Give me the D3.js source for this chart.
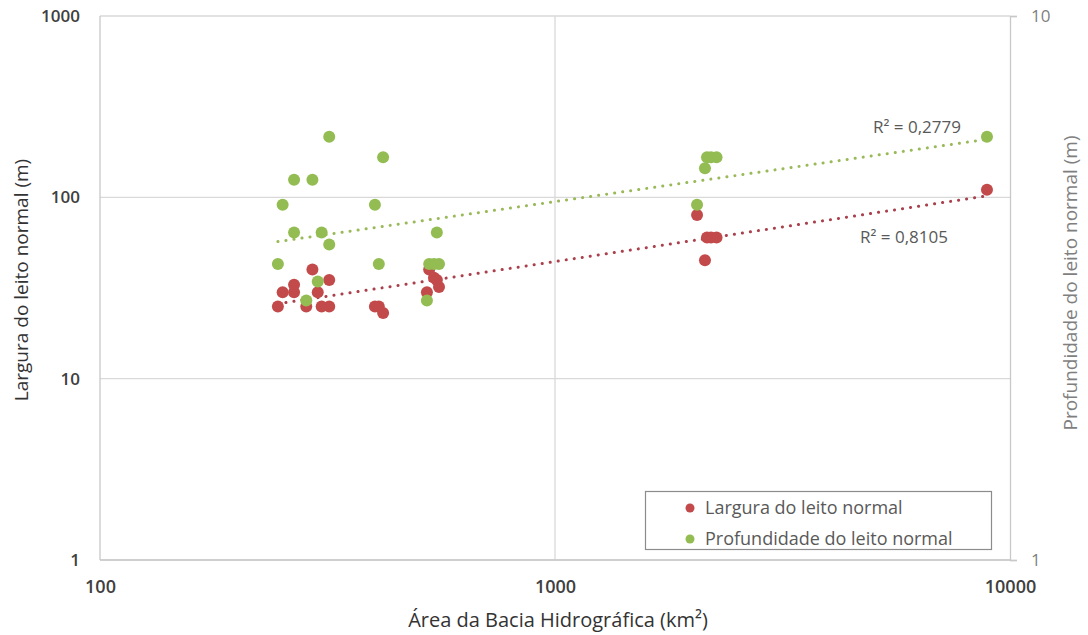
<!DOCTYPE html>
<html>
<head>
<meta charset="utf-8">
<script src="https://cdn.jsdelivr.net/npm/d3@7"></script>
<style>
  html, body { margin: 0; padding: 0; background: #fff; }
  svg { display: block; font-family: "Open Sans", "Noto Sans", sans-serif; }
</style>
</head>
<body>
<svg id="chart" width="1088" height="635"></svg>
<script>
// Basin area (km²) of each surveyed reach
const area = [246, 252, 267, 267, 284, 293, 301, 307, 319, 319,
              402, 410, 419, 523, 529, 542, 550, 556,
              2052, 2136, 2158, 2202, 2265, 8900];
// Bankfull width (m) – left axis
const largura = [25, 30, 33, 30, 25, 40, 30, 25, 35, 25,
                 25, 25, 23, 30, 40, 36, 35, 32,
                 80, 45, 60, 60, 60, 110];
// Bankfull depth (m) – right axis
const profundidade = [3.5, 4.5, 5, 4, 3, 5, 3.25, 4, 6, 3.8,
                      4.5, 3.5, 5.5, 3, 3.5, 3.5, 4, 3.5,
                      4.5, 5.25, 5.5, 5.5, 5.5, 6];
const xTicks = [100, 1000, 10000];
const yLeftTicks = [1, 10, 100, 1000];
const yRightTicks = [1, 10];
const r2Labels = ["R² = 0,8105", "R² = 0,2779"];
const seriesNames = ["Largura do leito normal", "Profundidade do leito normal"];
const titles = {
  x: "Área da Bacia Hidrográfica (km²)",
  yLeft: "Largura do leito normal (m)",
  yRight: "Profundidade do leito normal (m)"
};

const RED = "#c34a4b", GREEN = "#93bd52";
const RED_TREND = "#a9404b", GREEN_TREND = "#9aba5a";

const svg = d3.select("#chart");
const L = 100, R = 1010, T = 16, B = 560;

const x = d3.scaleLog().domain([100, 10000]).range([L, R]);
const yL = d3.scaleLog().domain([1, 1000]).range([B, T]);
const yR = d3.scaleLog().domain([1, 10]).range([B, T]);

// gridlines
const grid = svg.append("g");
grid.selectAll("line.h").data(yLeftTicks).join("line")
  .attr("x1", L).attr("x2", R)
  .attr("y1", d => yL(d)).attr("y2", d => yL(d))
  .attr("stroke", "#d9d9d9").attr("stroke-width", 1.3);
grid.selectAll("line.v").data(xTicks.slice(1, -1)).join("line")
  .attr("x1", d => x(d)).attr("x2", d => x(d))
  .attr("y1", T).attr("y2", B)
  .attr("stroke", "#d9d9d9").attr("stroke-width", 1.3);

// axis lines
svg.append("line").attr("x1", L).attr("x2", L).attr("y1", T).attr("y2", B)
  .attr("stroke", "#c8c8c8").attr("stroke-width", 1.3);
svg.append("line").attr("x1", L).attr("x2", R).attr("y1", B).attr("y2", B)
  .attr("stroke", "#c8c8c8").attr("stroke-width", 1.3);

// right (secondary) axis with outward ticks
const rightAxis = svg.append("g").attr("transform", `translate(${R},0)`)
  .call(d3.axisRight(yR).tickValues(yRightTicks).tickSize(7).tickPadding(14)
    .tickFormat(d3.format("d")));
rightAxis.select(".domain").attr("stroke", "#c8c8c8").attr("stroke-width", 1.3);
rightAxis.selectAll(".tick line").attr("stroke", "#c8c8c8").attr("stroke-width", 1.3);
rightAxis.selectAll("text").attr("font-size", 17).attr("fill", "#7f7f7f")
  .attr("font-family", "'Open Sans', sans-serif");

// left axis labels
const leftAxis = svg.append("g").attr("transform", `translate(${L},0)`)
  .call(d3.axisLeft(yL).tickValues(yLeftTicks).tickSize(0).tickPadding(20)
    .tickFormat(d3.format("d")));
leftAxis.select(".domain").remove();
leftAxis.selectAll("text").attr("font-size", 17).attr("fill", "#404040")
  .attr("font-weight", 600).attr("font-family", "'Open Sans', sans-serif");

// bottom axis labels
const bottomAxis = svg.append("g").attr("transform", `translate(0,${B})`)
  .call(d3.axisBottom(x).tickValues(xTicks).tickSize(0).tickPadding(20)
    .tickFormat(d3.format("d")));
bottomAxis.select(".domain").remove();
bottomAxis.selectAll("text").attr("font-size", 18).attr("fill", "#404040")
  .attr("font-weight", 600).attr("font-family", "'Open Sans', sans-serif");

// power-law trendline (least squares in log-log space)
function powerFit(xs, ys) {
  const lx = xs.map(Math.log10), ly = ys.map(Math.log10);
  const mx = d3.mean(lx), my = d3.mean(ly);
  const b = d3.sum(lx, (v, i) => (v - mx) * (ly[i] - my)) / d3.sum(lx, v => (v - mx) ** 2);
  const a = my - b * mx;
  return v => Math.pow(10, a + b * Math.log10(v));
}
const xMin = d3.min(area), xMax = d3.max(area);
const trendXs = d3.range(0, 61).map(i => xMin * Math.pow(xMax / xMin, i / 60));

const fitL = powerFit(area, largura);
const fitP = powerFit(area, profundidade);
const line = (yScale, f) => d3.line().x(d => x(d)).y(d => yScale(f(d)))(trendXs);

svg.append("path").attr("d", line(yL, fitL)).attr("fill", "none")
  .attr("stroke", RED_TREND).attr("stroke-width", 3)
  .attr("stroke-linecap", "round").attr("stroke-dasharray", "0.1 8");
svg.append("path").attr("d", line(yR, fitP)).attr("fill", "none")
  .attr("stroke", GREEN_TREND).attr("stroke-width", 3)
  .attr("stroke-linecap", "round").attr("stroke-dasharray", "0.1 8");

// markers
svg.append("g").selectAll("circle").data(area).join("circle")
  .attr("cx", d => x(d)).attr("cy", (d, i) => yL(largura[i]))
  .attr("r", 6).attr("fill", RED);
svg.append("g").selectAll("circle").data(area).join("circle")
  .attr("cx", d => x(d)).attr("cy", (d, i) => yR(profundidade[i]))
  .attr("r", 6).attr("fill", GREEN);

// R² labels
svg.append("text").attr("x", 904).attr("y", 243).attr("text-anchor", "middle")
  .attr("font-size", 17).attr("fill", "#595959").text(r2Labels[0]);
svg.append("text").attr("x", 917).attr("y", 133).attr("text-anchor", "middle")
  .attr("font-size", 17).attr("fill", "#595959").text(r2Labels[1]);

// axis titles
svg.append("text").attr("x", 558).attr("y", 627).attr("text-anchor", "middle")
  .attr("font-size", 20).attr("fill", "#333").text(titles.x);
svg.append("text").attr("transform", "translate(28,280) rotate(-90)")
  .attr("text-anchor", "middle").attr("font-size", 19).attr("fill", "#333")
  .text(titles.yLeft);
svg.append("text").attr("transform", "translate(1077,283) rotate(-90)")
  .attr("text-anchor", "middle").attr("font-size", 19).attr("fill", "#7f7f7f")
  .text(titles.yRight);

// legend
const lg = svg.append("g");
lg.append("rect").attr("x", 645.5).attr("y", 491.5).attr("width", 346).attr("height", 58)
  .attr("fill", "#fff").attr("stroke", "#8c8c8c").attr("stroke-width", 1.2);
[RED, GREEN].forEach((c, i) => {
  const cy = 508 + i * 31;
  lg.append("circle").attr("cx", 690).attr("cy", cy).attr("r", 4.5).attr("fill", c);
  lg.append("text").attr("x", 705).attr("y", cy + 6).attr("font-size", 18)
    .attr("fill", "#595959").text(seriesNames[i]);
});
</script>
</body>
</html>
